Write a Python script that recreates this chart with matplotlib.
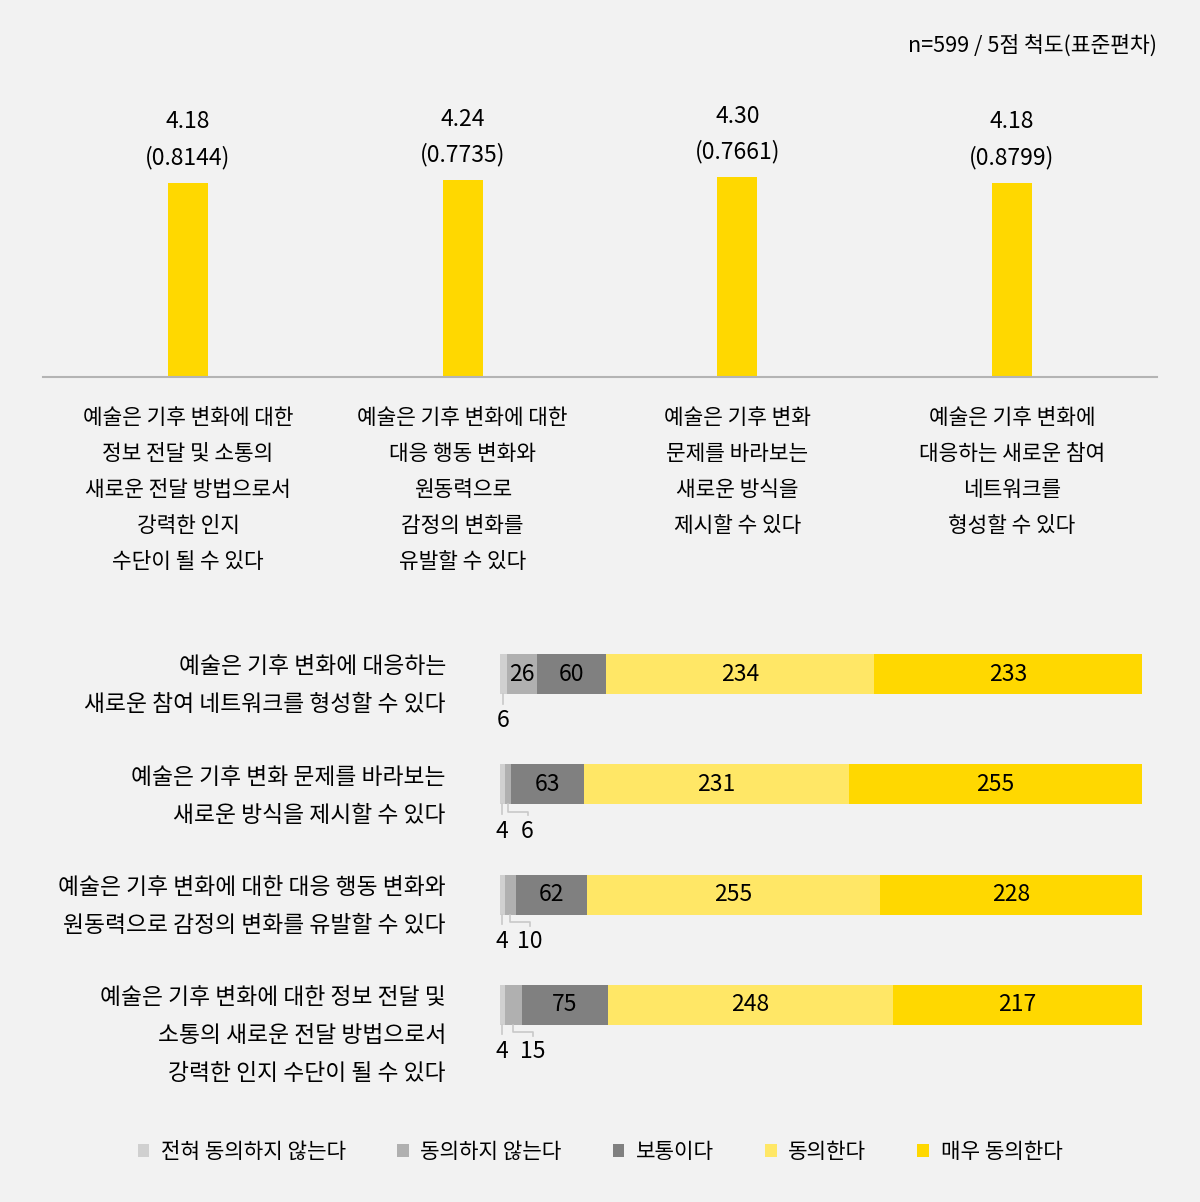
import matplotlib.pyplot as plt
import numpy as np
from matplotlib.patches import Patch

plt.rcParams['font.family'] = ['Noto Sans CJK KR', 'DejaVu Sans']

# top chart: mean score and standard deviation
top_labels = [
    ['예술은 기후 변화에 대한', '정보 전달 및 소통의', '새로운 전달 방법으로서', '강력한 인지', '수단이 될 수 있다'],
    ['예술은 기후 변화에 대한', '대응 행동 변화와', '원동력으로', '감정의 변화를', '유발할 수 있다'],
    ['예술은 기후 변화', '문제를 바라보는', '새로운 방식을', '제시할 수 있다'],
    ['예술은 기후 변화에', '대응하는 새로운 참여', '네트워크를', '형성할 수 있다'],
]
means = [4.18, 4.24, 4.30, 4.18]
stds = [0.8144, 0.7735, 0.7661, 0.8799]

# bottom chart: response counts
row_labels = [
    ['예술은 기후 변화에 대응하는', '새로운 참여 네트워크를 형성할 수 있다'],
    ['예술은 기후 변화 문제를 바라보는', '새로운 방식을 제시할 수 있다'],
    ['예술은 기후 변화에 대한 대응 행동 변화와', '원동력으로 감정의 변화를 유발할 수 있다'],
    ['예술은 기후 변화에 대한 정보 전달 및', '소통의 새로운 전달 방법으로서', '강력한 인지 수단이 될 수 있다'],
]
strongly_disagree = [6, 4, 4, 4]
disagree = [26, 6, 10, 15]
neutral = [60, 63, 62, 75]
agree = [234, 231, 255, 248]
strongly_agree = [233, 255, 228, 217]
legend_labels = ['전혀 동의하지 않는다', '동의하지 않는다', '보통이다', '동의한다', '매우 동의한다']
colors = ['#d0d0d0', '#b0b0b0', '#808080', '#ffe766', '#ffd800']

bg = '#f2f2f2'
W, H = 1200, 1202
fig = plt.figure(figsize=(W / 100, H / 100), dpi=100, facecolor=bg)

# ---- top bar chart ----
ax = fig.add_axes([43 / W, (H - 377) / H, 1114 / W, 317 / H])
ax.set_facecolor(bg)
x = np.arange(len(means))
ax.bar(x, means, width=0.146, color=colors[4])
ax.set_xlim(-0.528, 3.528)
ax.set_ylim(0, 317 / 46.4)
for s in ['top', 'right', 'left']:
    ax.spines[s].set_visible(False)
ax.spines['bottom'].set_color('#b4b4b4')
ax.spines['bottom'].set_linewidth(1.5)
ax.set_xticks([])
ax.set_yticks([])

for i in range(len(means)):
    ax.annotate(f'({stds[i]:.4f})', (x[i], means[i]), xytext=(0, 18.5), textcoords='offset points',
                ha='center', va='center', fontsize=16.5)
    ax.annotate(f'{means[i]:.2f}', (x[i], means[i]), xytext=(0, 44), textcoords='offset points',
                ha='center', va='center', fontsize=16.5)
    for k, line in enumerate(top_labels[i]):
        ax.annotate(line, (x[i], 0), xytext=(0, -29.3 - k * 25.9), textcoords='offset points',
                    ha='center', va='center', fontsize=15.4)

fig.text(1157 / W, 1 - 46 / H, 'n=599 / 5점 척도(표준편차)', ha='right', va='center', fontsize=15.5)

# ---- bottom stacked bar chart ----
ax2 = fig.add_axes([500 / W, (H - 1060) / H, 642 / W, 441 / H])
ax2.set_facecolor(bg)
series = [strongly_disagree, disagree, neutral, agree, strongly_agree]
data = np.array(series)
totals = data.sum(axis=0)
rows = np.arange(len(row_labels))
bh = 0.363
left = np.zeros(len(rows))
for j, vals in enumerate(series):
    ax2.barh(rows, vals, left=left, height=bh, color=colors[j], label=legend_labels[j])
    for r in rows:
        v = vals[r]
        cx = left[r] + v / 2
        if v >= 20:
            ax2.text(cx, r, str(v), ha='center', va='center', fontsize=16.5)
        elif j == 0:
            ax2.plot([cx, cx], [r + bh / 2, r + bh / 2 + 0.085], color='#c8c8c8', lw=1.2)
            ax2.text(cx, r + 0.425, str(v), ha='center', va='center', fontsize=16.5)
        else:
            lx = cx + 17
            ax2.plot([cx, cx, lx, lx], [r + bh / 2, r + bh / 2 + 0.065, r + bh / 2 + 0.065, r + bh / 2 + 0.1],
                     color='#c8c8c8', lw=1.2)
            ax2.text(lx, r + 0.425, str(v), ha='center', va='center', fontsize=16.5)
    left += np.array(vals)

ax2.set_xlim(0, totals.max())
ax2.set_ylim(3.5, -0.5)
ax2.axis('off')

for r in rows:
    for k, line in enumerate(row_labels[r]):
        ax2.annotate(line, (0, r), xytext=(-38.9, 5.2 - k * 27.3), textcoords='offset points',
                     ha='right', va='center', fontsize=16.4, annotation_clip=False)

handles = [Patch(facecolor=c, edgecolor='none') for c in colors]
fig.legend(handles, legend_labels, loc='center', bbox_to_anchor=(600 / W, 1 - 1152 / H), ncol=5,
           frameon=False, fontsize=15.3, handlelength=0.55, handleheight=0.55, handletextpad=0.55,
           columnspacing=2.4)

fig.savefig('out.png', dpi=100, facecolor=bg)
